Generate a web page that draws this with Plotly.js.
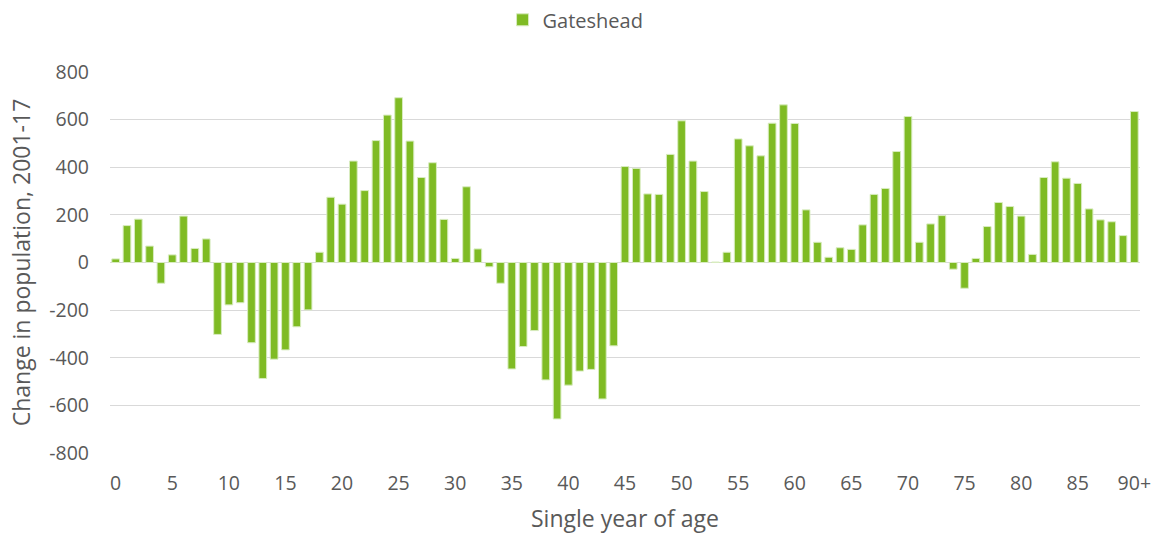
<!DOCTYPE html>
<html>
<head>
<meta charset="utf-8">
<script src="https://cdn.plot.ly/plotly-3.0.1.min.js"></script>
<style>html,body{margin:0;padding:0;background:#fff;}#chart{width:1162px;height:540px;}</style>
</head>
<body>
<div id="chart"></div>
<script>
const ages = [];
for (let i = 0; i < 90; i++) ages.push(String(i));
ages.push("90+");

const gateshead = [
  15, 155, 182, 69, -87, 32, 195, 59, 99, -302,
  -178, -169, -337, -487, -406, -367, -270, -199, 43, 274,
  245, 426, 302, 512, 619, 692, 510, 357, 419, 181,
  17, 318, 57, -18, -87, -447, -353, -286, -493, -657,
  -515, -456, -449, -573, -350, 403, 395, 288, 286, 454,
  595, 426, 298, 2, 43, 519, 490, 448, 585, 662,
  584, 221, 85, 22, 62, 55, 158, 286, 311, 466,
  613, 85, 162, 197, -28, -108, 17, 151, 252, 235,
  195, 34, 357, 423, 354, 332, 225, 179, 171, 113,
  634
];

const xTickLabels = ["0","5","10","15","20","25","30","35","40","45","50","55","60","65","70","75","80","85","90+"];
const yTickVals = [-800, -600, -400, -200, 0, 200, 400, 600, 800];
const yTickText = ["-800", "-600", "-400", "-200", "0", "200", "400", "600", "800"];

const fam = "Open Sans, sans-serif";
const grey = "#595959";
const tickFont = {family: fam, color: grey, size: 19.5};
const titleFont = {family: fam, color: grey, size: 23};
const legendFont = {family: fam, color: grey, size: 20};

Plotly.newPlot("chart", [{
  type: "bar",
  name: "Gateshead",
  x: ages,
  y: gateshead,
  marker: {color: "#7fbb24", line: {color: "#d8ecbf", width: 1}}
}], {
  width: 1162, height: 540,
  margin: {l: 110, r: 22, t: 72, b: 87, autoexpand: false},
  paper_bgcolor: "#fff", plot_bgcolor: "#fff",
  font: tickFont,
  bargap: 0.32,
  showlegend: true,
  legend: {orientation: "h", x: 0.452, xanchor: "center", y: 1.137, yanchor: "middle", font: legendFont, itemwidth: 30},
  xaxis: {
    type: "category",
    range: [-0.5, 90.5],
    tickmode: "array",
    tickvals: xTickLabels,
    ticktext: xTickLabels,
    showgrid: false,
    zeroline: false,
    showline: false,
    ticks: "",
    ticklabelstandoff: 16,
    tickfont: tickFont,
    title: {text: "Single year of age", font: titleFont, standoff: 16}
  },
  yaxis: {
    range: [-800, 800],
    tickmode: "array",
    tickvals: yTickVals,
    ticktext: yTickText,
    showgrid: true,
    gridcolor: "#d9d9d9",
    gridwidth: 1,
    zeroline: true,
    zerolinecolor: "#d9d9d9",
    zerolinewidth: 1,
    ticks: "",
    ticklabelstandoff: 20,
    tickfont: tickFont,
    title: {text: "Change in population, 2001-17", font: titleFont, standoff: 12}
  }
}, {displayModeBar: false, staticPlot: true});
</script>
</body>
</html>
